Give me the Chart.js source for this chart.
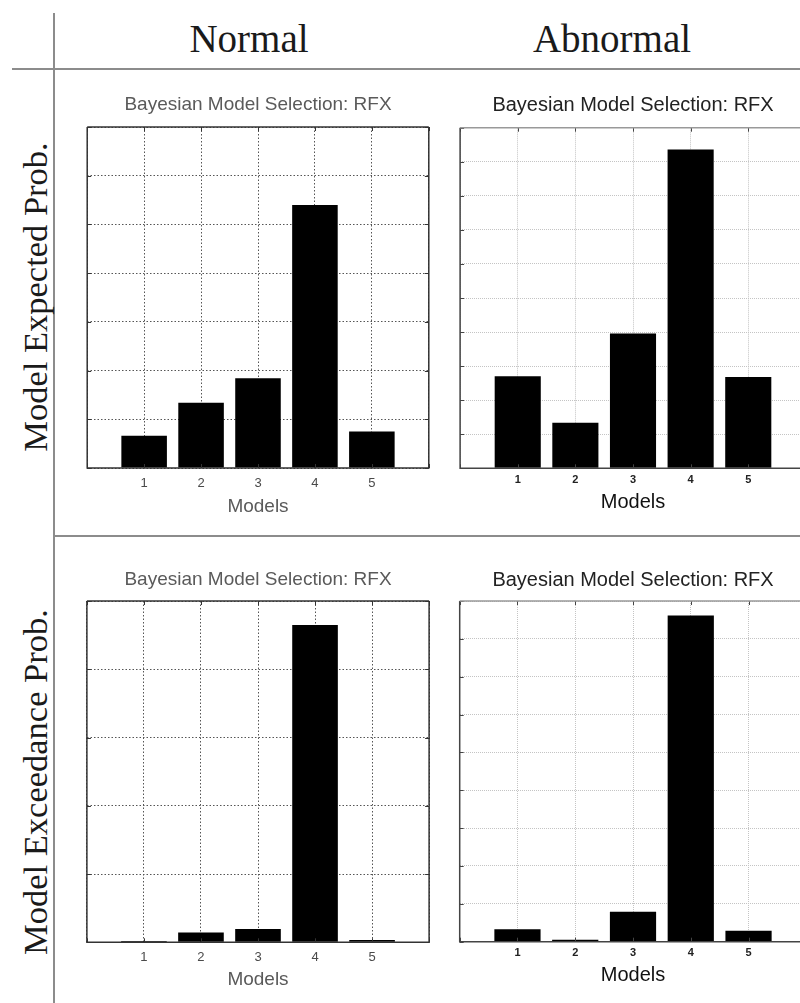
<!DOCTYPE html>
<html>
<head>
<meta charset="utf-8">
<script src="https://cdn.jsdelivr.net/npm/chart.js@4.4.0/dist/chart.umd.min.js"></script>
<style>
  html, body { margin: 0; padding: 0; background: #fff; overflow: hidden; }
  body { width: 800px; height: 1003px; position: relative; }
  .rule { position: absolute; background: #8c8c8c; }
  .head { position: absolute; font-family: "Liberation Serif", serif; font-size: 39px; line-height: 39px;
          color: #1a1a1a; white-space: nowrap; transform: translateX(-50%); }
  .side { position: absolute; font-family: "Liberation Serif", serif; font-size: 34.5px; line-height: 34.5px;
          color: #1a1a1a; white-space: nowrap; transform: translate(-50%, -50%) rotate(-90deg); }
  canvas { position: absolute; }
</style>
</head>
<body>
<div class="rule" style="left:53px; top:13px; width:2px; height:990px;"></div>
<div class="rule" style="left:12px; top:68px; width:788px; height:2px;"></div>
<div class="rule" style="left:55px; top:535px; width:745px; height:2px;"></div>

<div class="head" style="left:249px; top:19px;">Normal</div>
<div class="head" style="left:612px; top:19px;">Abnormal</div>
<div class="side" style="left:35px; top:297px;">Model Expected Prob.</div>
<div class="side" style="left:35px; top:782px;">Model Exceedance Prob.</div>

<canvas id="expNormal"></canvas>
<canvas id="expAbnormal"></canvas>
<canvas id="excNormal"></canvas>
<canvas id="excAbnormal"></canvas>

<script>
// data
const models = [1, 2, 3, 4, 5];
const expectedNormal = [0.066, 0.134, 0.184, 0.540, 0.075];
const expectedAbnormal = [0.135, 0.067, 0.198, 0.468, 0.134];
const exceedNormal = [0.004, 0.029, 0.039, 0.930, 0.007];
const exceedAbnormal = [0.033, 0.005, 0.079, 0.862, 0.029];

// y axis limits, order: expNormal, expAbnormal, excNormal, excAbnormal
const yMax = [0.7, 0.5, 1.0, 0.9];
const yStep = [0.1, 0.05, 0.2, 0.1];

const titleText = 'Bayesian Model Selection: RFX';
const xTitle = 'Models';

// the two panels of the figure were exported with different looks
const greyStyle = {
  title: { size: 19, color: '#5a5a5a', weight: 'normal' },
  tick: { size: 13, color: '#4a4a4a', weight: 'normal' },
  xlab: { size: 19, color: '#5a5a5a' },
  grid: '#555', dash: [1.5, 2], box: '#333', boxTop: '#333'
};
const crispStyle = {
  title: { size: 20, color: '#222', weight: 'normal' },
  tick: { size: 11, color: '#222', weight: 'bold' },
  xlab: { size: 20, color: '#111' },
  grid: '#c4c4c4', dash: [1, 1], box: '#444', boxTop: '#999'
};

// chart.js keeps about 7px beside the x axis ends no matter what
const AXIS_GAP = 7;

const boxPlugin = {
  id: 'box',
  afterDatasetsDraw(chart, args, opts) {
    const { ctx, chartArea: a, scales } = chart;
    ctx.save();
    ctx.strokeStyle = opts.color;
    ctx.lineWidth = 1;
    ctx.beginPath();
    scales.y.ticks.forEach(t => {
      const y = Math.round(scales.y.getPixelForValue(t.value)) + 0.5;
      ctx.moveTo(a.left, y); ctx.lineTo(a.left + 4, y);
      ctx.moveTo(a.right, y); ctx.lineTo(a.right - 4, y);
    });
    scales.x.ticks.forEach(t => {
      const x = Math.round(scales.x.getPixelForValue(t.value)) + 0.5;
      ctx.moveTo(x, a.top); ctx.lineTo(x, a.top + 4);
      ctx.moveTo(x, a.bottom); ctx.lineTo(x, a.bottom - 4);
    });
    ctx.stroke();
    ctx.lineWidth = 1.5;
    ctx.beginPath();
    ctx.moveTo(a.left, a.top);
    ctx.lineTo(a.left, a.bottom);
    ctx.lineTo(a.right, a.bottom);
    ctx.lineTo(a.right, a.top);
    ctx.stroke();
    ctx.strokeStyle = opts.topColor;
    ctx.beginPath();
    ctx.moveTo(a.left, a.top);
    ctx.lineTo(a.right, a.top);
    ctx.stroke();
    ctx.restore();
  }
};

function drawChart(id, values, max, step, st, pos) {
  const canvas = document.getElementById(id);
  const left = Math.round(pos.boxL - AXIS_GAP);
  const width = Math.round(pos.boxR + AXIS_GAP) - left;
  canvas.width = width;
  canvas.height = pos.h;
  canvas.style.left = left + 'px';
  canvas.style.top = pos.top + 'px';

  const lhTitle = st.title.size * 1.2;
  const lhTick = st.tick.size * 1.2;
  const lhX = st.xlab.size * 1.2;
  const titleTop = pos.titleY - pos.top - lhTitle / 2;
  const titleBottom = pos.boxT - pos.top - titleTop - lhTitle;
  const axisHeight = pos.top + pos.h - pos.boxB;

  new Chart(canvas, {
    type: 'bar',
    data: {
      datasets: [{
        data: models.map((m, i) => ({ x: m, y: values[i] })),
        backgroundColor: '#000',
        borderWidth: 0,
        barPercentage: 0.8,
        categoryPercentage: 1
      }]
    },
    options: {
      responsive: false,
      animation: false,
      layout: { padding: 0 },
      plugins: {
        legend: { display: false },
        tooltip: { enabled: false },
        title: {
          display: true,
          text: titleText,
          color: st.title.color,
          font: { family: 'Liberation Sans', size: st.title.size, weight: st.title.weight, lineHeight: 1.2 },
          padding: { top: titleTop, bottom: titleBottom }
        },
        box: { color: st.box, topColor: st.boxTop }
      },
      scales: {
        x: {
          type: 'linear',
          min: 0,
          max: 6,
          offset: false,
          afterFit: s => { s.height = axisHeight; },
          grid: { color: st.grid, lineWidth: 1, drawTicks: false, offset: false, borderDash: st.dash },
          border: { display: false, dash: st.dash },
          ticks: {
            stepSize: 1,
            padding: pos.tickY - pos.boxB - lhTick / 2,
            color: st.tick.color,
            font: { family: 'Liberation Sans', size: st.tick.size, weight: st.tick.weight, lineHeight: 1.2 },
            maxRotation: 0,
            callback: v => (v >= 1 && v <= 5 ? String(v) : '')
          },
          title: {
            display: true,
            text: xTitle,
            color: st.xlab.color,
            font: { family: 'Liberation Sans', size: st.xlab.size, lineHeight: 1.2 },
            padding: { top: 0, bottom: pos.top + pos.h - pos.xlabY - lhX / 2 }
          }
        },
        y: {
          min: 0,
          max: max,
          afterFit: s => { s.width = 0; },
          grid: { color: st.grid, lineWidth: 1, drawTicks: false, borderDash: st.dash },
          border: { display: false, dash: st.dash },
          ticks: { display: false, stepSize: step }
        }
      }
    },
    plugins: [boxPlugin]
  });
}

drawChart('expNormal', expectedNormal, yMax[0], yStep[0], greyStyle,
  { top: 85, h: 437, boxL: 87, boxR: 428.5, boxT: 127, boxB: 468, titleY: 105, tickY: 483, xlabY: 507 });
drawChart('expAbnormal', expectedAbnormal, yMax[1], yStep[1], crispStyle,
  { top: 85, h: 437, boxL: 462.3, boxR: 803.7, boxT: 127.7, boxB: 468.3, titleY: 105, tickY: 480, xlabY: 502 });
drawChart('excNormal', exceedNormal, yMax[2], yStep[2], greyStyle,
  { top: 560, h: 437, boxL: 87, boxR: 428.5, boxT: 601, boxB: 942.3, titleY: 580, tickY: 957, xlabY: 980 });
drawChart('excAbnormal', exceedAbnormal, yMax[3], yStep[3], crispStyle,
  { top: 560, h: 437, boxL: 462.3, boxR: 803.7, boxT: 601, boxB: 941.7, titleY: 580, tickY: 953, xlabY: 975 });
</script>
</body>
</html>
